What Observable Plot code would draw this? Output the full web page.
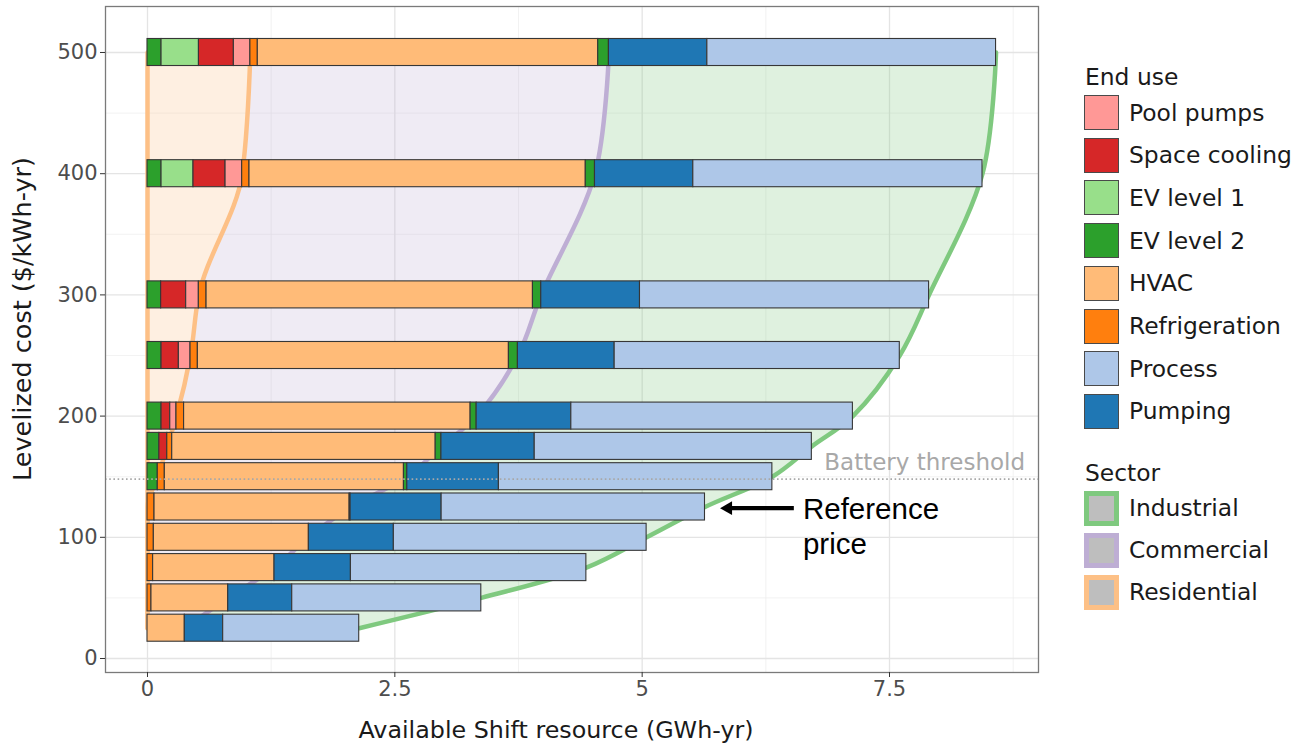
<!DOCTYPE html>
<html><head><meta charset="utf-8">
<script src="https://cdn.jsdelivr.net/npm/d3@7"></script>
<script src="https://cdn.jsdelivr.net/npm/@observablehq/plot@0.6"></script>
<style>
body{margin:0;background:#fff;}
#wrap{position:relative;width:1297px;height:743px;font-family:"DejaVu Sans",sans-serif;overflow:hidden;}
#chart{position:absolute;left:0;top:0;}
.lg{position:absolute;white-space:nowrap;color:#1a1a1a;font-size:23.4px;height:30px;line-height:30px;}
.key{position:absolute;box-sizing:border-box;width:35px;height:35px;}
.ttl{position:absolute;white-space:nowrap;color:#1a1a1a;}
</style></head><body><div id="wrap"><div id="chart"></div></div>
<script>
// ---- data ----
const costs = [25, 50, 75, 100, 125, 150, 175, 200, 250, 300, 400, 500];
const ev2Residential = [0, 0, 0, 0, 0, 0.104, 0.12, 0.142, 0.142, 0.138, 0.142, 0.142];
const ev1Residential = [0, 0, 0, 0, 0, 0, 0, 0, 0, 0, 0.323, 0.378];
const spaceCooling   = [0, 0, 0, 0, 0, 0, 0.08, 0.088, 0.175, 0.253, 0.324, 0.353];
const poolPumps      = [0, 0, 0, 0, 0, 0, 0, 0.063, 0.118, 0.128, 0.168, 0.167];
const refrigeration  = [0, 0.04, 0.057, 0.064, 0.071, 0.071, 0.05, 0.077, 0.074, 0.078, 0.074, 0.075];
const hvac           = [0.377, 0.776, 1.227, 1.567, 1.972, 2.417, 2.663, 2.896, 3.144, 3.299, 3.399, 3.441];
const ev2Commercial  = [0, 0, 0, 0, 0.01, 0.034, 0.058, 0.061, 0.091, 0.084, 0.093, 0.108];
const pumping        = [0.388, 0.647, 0.772, 0.859, 0.92, 0.926, 0.943, 0.957, 0.978, 0.998, 0.994, 0.995];
const processUse     = [1.375, 1.911, 2.38, 2.555, 2.662, 2.764, 2.801, 2.846, 2.882, 2.922, 2.923, 2.918];

const endUses = ["Pool pumps", "Space cooling", "EV level 1", "EV level 2", "HVAC", "Refrigeration", "Process", "Pumping"];
const endUseColors = ["#ff9896", "#d62728", "#98df8a", "#2ca02c", "#ffbb78", "#ff7f0e", "#aec7e8", "#1f77b4"];
const sectors = ["Industrial", "Commercial", "Residential"];
const sectorColors = ["#7fc97f", "#beaed4", "#fdc086"];

const xTicks = [0, 2.5, 5, 7.5];
const xMinor = [1.25, 3.75, 6.25, 8.75];
const yTicks = [0, 100, 200, 300, 400, 500];
const yMinor = [50, 150, 250, 350, 450];

const batteryThreshold = 148;
const batteryLabel = "Battery threshold";
const batteryLabelX = 8.87;
const referenceLabel = "Reference\nprice";
const referenceY = 124;
const referenceArrowTail = 6.533;
const referenceArrowTip = 5.769;
const referenceLabelX = 6.625;

// ---- build tables ----
const stackOrder = [
  {use: "EV level 2", sector: "Residential", values: ev2Residential},
  {use: "EV level 1", sector: "Residential", values: ev1Residential},
  {use: "Space cooling", sector: "Residential", values: spaceCooling},
  {use: "Pool pumps", sector: "Residential", values: poolPumps},
  {use: "Refrigeration", sector: "Commercial", values: refrigeration},
  {use: "HVAC", sector: "Commercial", values: hvac},
  {use: "EV level 2", sector: "Commercial", values: ev2Commercial},
  {use: "Pumping", sector: "Industrial", values: pumping},
  {use: "Process", sector: "Industrial", values: processUse}
];

const segments = [];
const sectorRows = [];
costs.forEach((cost, i) => {
  let acc = 0;
  const cum = {cost, Residential: 0, Commercial: 0, Industrial: 0};
  for (const s of stackOrder) {
    const v = s.values[i];
    if (v > 0) segments.push({cost, use: s.use, x1: acc, x2: acc + v});
    acc += v;
    cum[s.sector] = acc;
  }
  sectorRows.push({cost, zero: 0, res: cum.Residential, com: Math.max(cum.Commercial, cum.Residential), tot: acc});
});

const halfBar = 11.15;
const curve = "catmull-rom";
const curveRes = "monotone-y";

const plot = Plot.plot({
  width: 1297,
  height: 743,
  marginLeft: 105,
  marginRight: 259,
  marginTop: 6,
  marginBottom: 71,
  style: {fontFamily: "DejaVu Sans", background: "white", color: "#4d4d4d"},
  x: {domain: [-0.4245, 9.006]},
  y: {domain: [-11.55, 537.95]},
  color: {domain: endUses, range: endUseColors},
  marks: [
    Plot.ruleX(xMinor, {stroke: "#ececec", strokeWidth: 0.7}),
    Plot.ruleY(yMinor, {stroke: "#ececec", strokeWidth: 0.7}),
    Plot.ruleX(xTicks, {stroke: "#e4e4e4", strokeWidth: 1.3}),
    Plot.ruleY(yTicks, {stroke: "#e4e4e4", strokeWidth: 1.3}),
    Plot.areaX(sectorRows, {y: "cost", x1: "com", x2: "tot", fill: sectorColors[0], fillOpacity: 0.25, curve}),
    Plot.areaX(sectorRows, {y: "cost", x1: "res", x2: "com", fill: sectorColors[1], fillOpacity: 0.25, curve}),
    Plot.areaX(sectorRows, {y: "cost", x1: "zero", x2: "res", fill: sectorColors[2], fillOpacity: 0.25, curve: curveRes}),
    Plot.lineX(sectorRows, {y: "cost", x: "tot", stroke: sectorColors[0], strokeWidth: 4.5, curve, strokeLinecap: "round"}),
    Plot.lineX(sectorRows, {y: "cost", x: "com", stroke: sectorColors[1], strokeWidth: 4.5, curve, strokeLinecap: "round"}),
    Plot.lineX(sectorRows, {y: "cost", x: "res", stroke: sectorColors[2], strokeWidth: 4.5, curve: curveRes, strokeLinecap: "round"}),
    Plot.lineX(sectorRows, {y: "cost", x: "zero", stroke: sectorColors[2], strokeWidth: 4.5, curve: curveRes, strokeLinecap: "round"}),
    Plot.rect(segments, {x1: "x1", x2: "x2", y1: d => d.cost - halfBar, y2: d => d.cost + halfBar, fill: "use", stroke: "#363636", strokeWidth: 1.1}),
    Plot.ruleY([batteryThreshold], {stroke: "#a8a8a8", strokeWidth: 1.6, strokeDasharray: "1.6,2.6"}),
    Plot.text([batteryLabel], {x: batteryLabelX, y: batteryThreshold, text: d => d, textAnchor: "end", lineAnchor: "bottom", dy: -9.5, fontSize: 23, fill: "#a8a8a8", fontFamily: "DejaVu Sans"}),
    Plot.link([referenceY], {x1: referenceArrowTail, x2: referenceArrowTip + 0.1, y1: d => d, y2: d => d, stroke: "black", strokeWidth: 4.3}),
    Plot.dot([referenceY], {x: referenceArrowTip, y: d => d, dx: 9.8, symbol: "triangle2", rotate: -90, r: 6.6, fill: "black", stroke: "none"}),
    Plot.text([referenceLabel], {x: referenceLabelX, y: referenceY, text: d => d, textAnchor: "start", lineAnchor: "bottom", lineHeight: 1.18, dy: 46, fontSize: 29.5, fill: "black", fontFamily: "Liberation Sans, Arial, sans-serif"}),
    Plot.frame({stroke: "#7a7a7a", strokeWidth: 1.3}),
    Plot.axisX({ticks: xTicks, tickFormat: d => String(d), tickSize: 5, tickPadding: 4, fontSize: 21, label: null, stroke: "#333"}),
    Plot.axisY({ticks: yTicks, tickFormat: d => String(d), tickSize: 5, tickPadding: 3, fontSize: 21, label: null, stroke: "#333"})
  ]
});
document.getElementById("chart").appendChild(plot);

// ---- axis titles and legend ----
const wrap = document.getElementById("wrap");
function addDiv(cls, text, styles) {
  const d = document.createElement("div");
  d.className = cls;
  d.textContent = text;
  Object.assign(d.style, styles);
  wrap.appendChild(d);
  return d;
}
addDiv("ttl", "Available Shift resource (GWh-yr)", {left: "556px", top: "730px", transform: "translate(-50%,-50%)", fontSize: "23.8px"});
addDiv("ttl", "Levelized cost ($/kWh-yr)", {left: "22px", top: "319px", transform: "translate(-50%,-50%) rotate(-90deg)", fontSize: "25.5px"});

addDiv("lg", "End use", {left: "1085px", top: (77 - 15) + "px"});
endUses.forEach((u, i) => {
  const c = 112.5 + i * 42.7;
  addDiv("key", "", {left: "1084px", top: (c - 17.5) + "px", background: endUseColors[i], border: "1px solid #4a4a4a"});
  addDiv("lg", u, {left: "1129px", top: (c - 15) + "px"});
});
addDiv("lg", "Sector", {left: "1085px", top: (473 - 15) + "px"});
sectors.forEach((s, i) => {
  const c = 508 + i * 42;
  addDiv("key", "", {left: "1084px", top: (c - 17.5) + "px", background: "#bebebe", border: "5px solid " + sectorColors[i]});
  addDiv("lg", s, {left: "1129px", top: (c - 15) + "px"});
});
</script></body></html>
